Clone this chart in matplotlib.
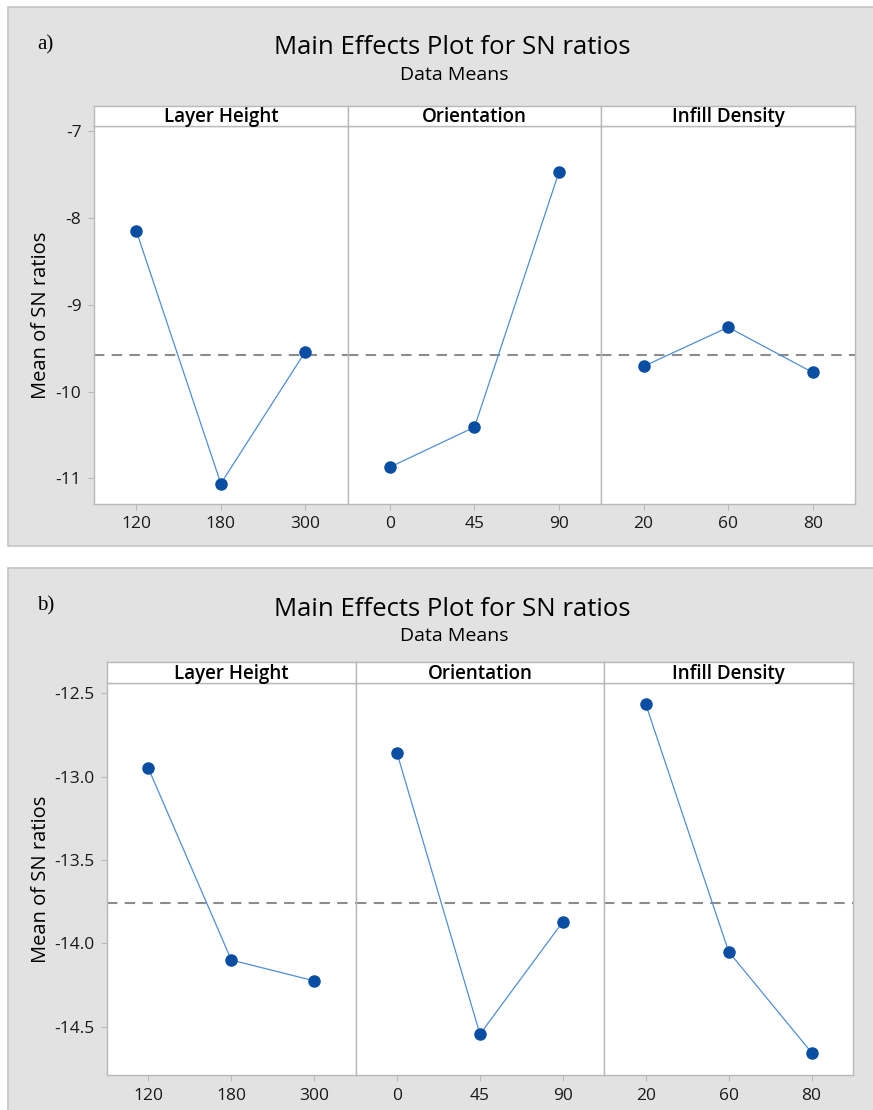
import matplotlib
matplotlib.use("Agg")
import matplotlib.pyplot as plt
from matplotlib.patches import Rectangle
from matplotlib.transforms import blended_transform_factory

W, H = 873, 1110
FONT = "Open Sans"

FACTORS = ["Layer Height", "Orientation", "Infill Density"]
LEVELS = [["120", "180", "300"], ["0", "45", "90"], ["20", "60", "80"]]

# panel a) SN ratio means
A_LAYER = [-8.15, -11.06, -9.54]
A_ORIENT = [-10.87, -10.41, -7.47]
A_INFILL = [-9.71, -9.26, -9.78]
A_MEAN = -9.585
A_YTICKS = [-7, -8, -9, -10, -11]

# panel b) SN ratio means
B_LAYER = [-12.95, -14.10, -14.225]
B_ORIENT = [-12.86, -14.545, -13.87]
B_INFILL = [-12.565, -14.05, -14.655]
B_MEAN = -13.76
B_YTICKS = [-12.5, -13.0, -13.5, -14.0, -14.5]

PT_COLOR = "#0a4ea3"
LINE_COLOR = "#4f8fd6"
EDGE = "#b9b9b9"
BG = "#e2e2e2"


def fx(px):
    return px / W


def fy(py):
    return 1 - py / H


def box(fig, x0, y0, x1, y1, **kw):
    fig.patches.append(Rectangle((fx(x0), fy(y1)), fx(x1) - fx(x0), fy(y0) - fy(y1),
                                 transform=fig.transFigure, **kw))


def panel(fig, tag, top, bot, series, mean, ylim, yticks, yfmt, left, right, strip_top, data_top, bottom):
    # grey background box
    box(fig, 8, top, W + 5, bot, facecolor=BG, edgecolor="#c4c4c4", lw=1.2, zorder=-5)
    fig.text(fx(37), fy(top + 38), tag, family="Liberation Serif", fontsize=15, va="center")
    fig.text(fx(452), fy(top + 41), "Main Effects Plot for SN ratios", family=FONT,
             fontsize=18.5, ha="center", va="center")
    fig.text(fx(454), fy(top + 68), "Data Means", family=FONT, fontsize=14,
             ha="center", va="center")
    pw = (right - left) / 3
    for i, (name, lev, vals) in enumerate(zip(FACTORS, LEVELS, series)):
        x0 = left + i * pw
        ax = fig.add_axes([fx(x0), fy(bottom), pw / W, (bottom - data_top) / H])
        ax.set_facecolor("white")
        ax.plot([1, 2, 3], vals, "-", color=LINE_COLOR, lw=0.9, zorder=2)
        ax.plot([1, 2, 3], vals, "o", color=PT_COLOR, ms=8, zorder=3)
        ax.axhline(mean, color="#8c8c8c", lw=1.5, ls=(0, (5, 3.5)), zorder=1)
        ax.set_xlim(0.5, 3.5)
        ax.set_ylim(*ylim)
        ax.set_xticks([1, 2, 3])
        ax.set_xticklabels(lev, family=FONT, fontsize=12.5, color="#1a1a1a")
        ax.set_yticks(yticks)
        if i == 0:
            ax.set_yticklabels([yfmt.format(v) for v in yticks], family=FONT,
                               fontsize=12.5, color="#1a1a1a")
            ax.set_ylabel("Mean of SN ratios", family=FONT, fontsize=14.5)
            ax.yaxis.set_label_coords(fx(51), 0.5,
                                      transform=blended_transform_factory(fig.transFigure, ax.transAxes))
        else:
            ax.tick_params(axis="y", left=False, labelleft=False)
        ax.tick_params(length=4, color=EDGE, width=0.8, pad=5)
        for s in ax.spines.values():
            s.set_color(EDGE)
            s.set_linewidth(1.0)
        # strip header
        sa = fig.add_axes([fx(x0), fy(data_top), pw / W, (data_top - strip_top) / H])
        sa.set_facecolor("white")
        sa.set_xticks([]); sa.set_yticks([])
        for s in sa.spines.values():
            s.set_color(EDGE)
            s.set_linewidth(1.0)
        sa.text(0.5, 0.45, name, family=FONT, fontweight="semibold", fontsize=13.5,
                ha="center", va="center", transform=sa.transAxes)


fig = plt.figure(figsize=(W / 100, H / 100), dpi=100)
fig.patch.set_facecolor("white")

panel(fig, "a)", 7, 546, [A_LAYER, A_ORIENT, A_INFILL], A_MEAN, (-11.295, -6.943),
      A_YTICKS, "{:g}", 94, 855, 106, 126, 504)
panel(fig, "b)", 568, H + 5, [B_LAYER, B_ORIENT, B_INFILL], B_MEAN, (-14.79, -12.4375),
      B_YTICKS, "{:.1f}", 107, 853, 662, 683, 1075)

fig.savefig("out.png", dpi=100, facecolor="white")
